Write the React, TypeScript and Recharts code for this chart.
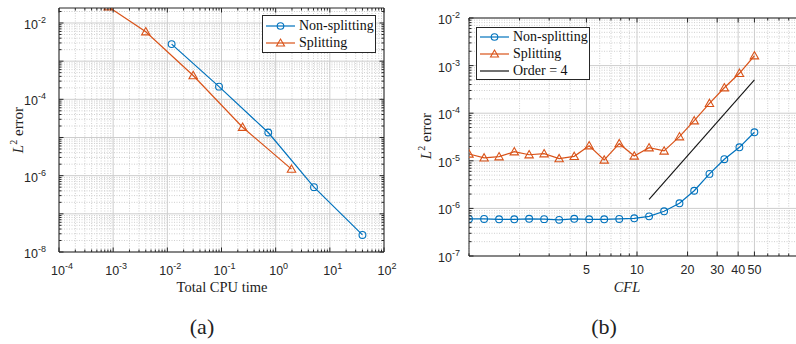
import React from 'react';
import { LineChart, Line, XAxis, YAxis, CartesianGrid } from 'recharts';

// (a) error against total CPU time
const cpuNonSplit = [0.012, 0.09, 0.73, 5.1, 40];
const errNonSplitA = [2.8e-3, 2.15e-4, 1.35e-5, 5.0e-7, 2.8e-8];
const cpuSplit = [8.1e-4, 4.0e-3, 0.03, 0.245, 1.96];
const errSplitA = [2.67e-2, 5.9e-3, 4.2e-4, 1.86e-5, 1.48e-6];

// (b) error against CFL
const cfl = [1, 1.23, 1.51, 1.86, 2.28, 2.8, 3.44, 4.23, 5.19, 6.38, 7.84, 9.63, 11.8, 14.5, 17.9, 21.9, 27, 33.1, 40.7, 50];
const errNonSplitB = [6.0e-7, 6.0e-7, 5.9e-7, 5.9e-7, 6.05e-7, 5.95e-7, 5.75e-7, 6.05e-7, 5.9e-7, 5.9e-7, 6.0e-7, 6.2e-7, 6.8e-7, 8.7e-7, 1.28e-6, 2.35e-6, 5.3e-6, 1.08e-5, 1.92e-5, 3.97e-5];
const errSplitB = [1.39e-5, 1.15e-5, 1.22e-5, 1.55e-5, 1.34e-5, 1.41e-5, 1.11e-5, 1.24e-5, 2.07e-5, 1.04e-5, 2.29e-5, 1.26e-5, 1.88e-5, 1.61e-5, 3.21e-5, 6.95e-5, 1.61e-4, 3.43e-4, 6.89e-4, 1.61e-3];
const cflOrder = [11.8, 50];
const errOrder = [1.55e-6, 5.0e-4];

// axis ticks
const xMajorA = [1e-4, 1e-3, 1e-2, 1e-1, 1, 10, 100];
const xLabelA = [1e-4, 1e-3, 1e-2, 1e-1, 1, 10, 100];
const yMajorA = [1e-8, 1e-7, 1e-6, 1e-5, 1e-4, 1e-3, 1e-2];
const yLabelA = [1e-8, 1e-6, 1e-4, 1e-2];
const xMajorB = [5, 10, 20, 30, 40, 50];
const xMinorB = [1, 2, 3, 4, 6, 7, 8, 9, 60, 70, 80, 90, 100];
const yMajorB = [1e-7, 1e-6, 1e-5, 1e-4, 1e-3, 1e-2];
const yLabelB = [1e-7, 1e-6, 1e-5, 1e-4, 1e-3, 1e-2];

const BLUE = '#0072BD';
const ORANGE = '#D95319';
const AXIS = '#262626';
const SANS = "'Liberation Sans', Arial, Helvetica, sans-serif";
const SERIF = "'Liberation Serif', 'Times New Roman', serif";

const X_DOMAIN_A: [number, number] = [1e-4, 100];
const Y_DOMAIN_A: [number, number] = [1e-8, 0.0247];
const X_DOMAIN_B: [number, number] = [1, 100];
const Y_DOMAIN_B: [number, number] = [1e-7, 1e-2];

function minors(lo: number, hi: number, max: number) {
  const out: number[] = [];
  for (let e = lo; e < hi; e++) {
    for (let m = 2; m <= 9; m++) {
      const v = m * Math.pow(10, e);
      if (v <= max) out.push(v);
    }
  }
  return out;
}

const xMinorA = minors(-4, 2, 100);
const yMinorA = minors(-8, -1, Y_DOMAIN_A[1]);
const yMinorB = minors(-7, -2, 1e-2);

const near = (list: number[], v: number) => list.some((m) => Math.abs(m - v) <= m * 1e-6);

const pts = (xs: number[], ys: number[]) => xs.map((x, i) => ({ x, y: ys[i] }));

const PowLabel = ({ x, y, anchor, v }: any) => (
  <text x={x} y={y} textAnchor={anchor} fontSize={12.5} fill={AXIS} fontFamily={SANS}>
    10
    <tspan dy={-6} fontSize={9}>
      {Math.round(Math.log10(v))}
    </tspan>
  </text>
);

function makeTick(side: string, majors: number[], labels: number[], pow: boolean, off: number) {
  return (props: any) => {
    const { x, y, payload, index } = props;
    const v = payload.value;
    const len = near(majors, v) ? 4.5 : 2.5;
    let line = null;
    let label = null;
    if (side === 'bottom') line = <line x1={x} x2={x} y1={y} y2={y - len} stroke={AXIS} />;
    if (side === 'top') line = <line x1={x} x2={x} y1={y} y2={y + len} stroke={AXIS} />;
    if (side === 'left') line = <line x1={x} x2={x + len} y1={y} y2={y} stroke={AXIS} />;
    if (side === 'right') line = <line x1={x} x2={x - len} y1={y} y2={y} stroke={AXIS} />;
    if (near(labels, v)) {
      if (side === 'bottom') {
        label = pow ? (
          <PowLabel x={x + 3} y={y + off} anchor="middle" v={v} />
        ) : (
          <text x={x} y={y + off} textAnchor="middle" fontSize={12.5} fill={AXIS} fontFamily={SANS}>
            {v}
          </text>
        );
      }
      if (side === 'left') label = <PowLabel x={x - off} y={y + 6} anchor="end" v={v} />;
    }
    return (
      <g key={`${side}-${index}`}>
        {line}
        {label}
      </g>
    );
  };
}

const triDot = (props: any) => {
  const { cx, cy, index } = props;
  if (cx == null || cy == null) return <g key={`t${index}`} />;
  const s = 4.2;
  return (
    <path
      key={`t${index}`}
      d={`M${cx},${cy - s} L${cx + s},${cy + s * 0.75} L${cx - s},${cy + s * 0.75} Z`}
      fill="none"
      stroke={ORANGE}
      strokeWidth={1.1}
    />
  );
};

const circleDot = { r: 3.4, fill: 'none', stroke: BLUE, strokeWidth: 1.1 };

const LegendRow = ({ color, marker, text }: any) => (
  <div style={{ display: 'flex', alignItems: 'center', height: 17 }}>
    <svg width={31} height={12} style={{ marginLeft: 2, marginRight: 3 }}>
      <line x1={1} x2={30} y1={6} y2={6} stroke={color} strokeWidth={1.2} />
      {marker === 'circle' && <circle cx={15.5} cy={6} r={3.3} fill="none" stroke={color} strokeWidth={1.1} />}
      {marker === 'tri' && <path d="M15.5,2 L19.5,9 L11.5,9 Z" fill="none" stroke={color} strokeWidth={1.1} />}
    </svg>
    <span style={{ fontFamily: SERIF, fontSize: 14, color: '#111', whiteSpace: 'nowrap' }}>{text}</span>
  </div>
);

const YTitle = ({ cx, cy }: any) => (
  <div
    style={{
      position: 'absolute',
      left: cx,
      top: cy,
      transform: 'translate(-50%, -50%) rotate(-90deg)',
      fontFamily: SERIF,
      fontSize: 15,
      color: '#222',
      whiteSpace: 'nowrap',
    }}
  >
    <i>L</i>
    <sup style={{ fontSize: 10 }}>2</sup> error
  </div>
);

const Caption = ({ cx, cy, size, italic, children }: any) => (
  <div
    style={{
      position: 'absolute',
      left: cx,
      top: cy,
      transform: 'translate(-50%, -50%)',
      fontFamily: SERIF,
      fontSize: size,
      fontStyle: italic ? 'italic' : 'normal',
      color: '#222',
      whiteSpace: 'nowrap',
    }}
  >
    {children}
  </div>
);

const axisCommon = {
  type: 'number' as const,
  scale: 'log' as const,
  allowDataOverflow: true,
  interval: 0 as const,
  tickSize: 0,
  tickMargin: 0,
  tickLine: false,
  stroke: AXIS,
};

export default function App() {
  const ticksXA = [...xMajorA, ...xMinorA];
  const ticksYA = [...yMajorA, ...yMinorA];
  const ticksXB = [...xMajorB, ...xMinorB];
  const ticksYB = [...yMajorB, ...yMinorB];

  return (
    <div style={{ position: 'absolute', left: 0, top: 0, width: 796, height: 344, overflow: 'hidden', background: '#fff' }}>
      <div style={{ position: 'absolute', left: 0, top: 0 }}>
        <LineChart width={400} height={344} margin={{ top: 7, right: 15, bottom: 62, left: 9 }}>
          <CartesianGrid horizontalValues={yMinorA} verticalValues={xMinorA} stroke="#cfcfcf" strokeDasharray="1 1.5" />
          <CartesianGrid horizontalValues={yMajorA} verticalValues={xMajorA} stroke="#cdcdcd" />
          <XAxis {...axisCommon} dataKey="x" domain={X_DOMAIN_A} ticks={ticksXA} height={30}
            tick={makeTick('bottom', xMajorA, xLabelA, true, 23)} />
          <XAxis {...axisCommon} xAxisId="top" orientation="top" dataKey="x" domain={X_DOMAIN_A} ticks={ticksXA} height={1}
            tick={makeTick('top', xMajorA, [], true, 0)} />
          <YAxis {...axisCommon} dataKey="y" domain={Y_DOMAIN_A} ticks={ticksYA} width={50}
            tick={makeTick('left', yMajorA, yLabelA, true, 13)} />
          <YAxis {...axisCommon} yAxisId="right" orientation="right" dataKey="y" domain={Y_DOMAIN_A} ticks={ticksYA} width={1}
            tick={makeTick('right', yMajorA, [], true, 0)} />
          <Line data={pts(cpuNonSplit, errNonSplitA)} dataKey="y" stroke={BLUE} strokeWidth={1.2} dot={circleDot} activeDot={false} isAnimationActive={false} />
          <Line data={pts(cpuSplit, errSplitA)} dataKey="y" stroke={ORANGE} strokeWidth={1.2} dot={triDot} activeDot={false} isAnimationActive={false} />
        </LineChart>
      </div>

      <div style={{ position: 'absolute', left: 400, top: 0 }}>
        <LineChart width={420} height={344} margin={{ top: 17, right: 14, bottom: 58, left: 19 }}>
          <CartesianGrid horizontalValues={yMinorB} verticalValues={xMinorB} stroke="#cfcfcf" strokeDasharray="1 1.5" />
          <CartesianGrid horizontalValues={yMajorB} verticalValues={xMajorB} stroke="#cdcdcd" />
          <XAxis {...axisCommon} dataKey="x" domain={X_DOMAIN_B} ticks={ticksXB} height={30}
            tick={makeTick('bottom', xMajorB, xMajorB, false, 18)} />
          <XAxis {...axisCommon} xAxisId="top" orientation="top" dataKey="x" domain={X_DOMAIN_B} ticks={ticksXB} height={1}
            tick={makeTick('top', xMajorB, [], false, 0)} />
          <YAxis {...axisCommon} dataKey="y" domain={Y_DOMAIN_B} ticks={ticksYB} width={50}
            tick={makeTick('left', yMajorB, yLabelB, true, 9)} />
          <YAxis {...axisCommon} yAxisId="right" orientation="right" dataKey="y" domain={Y_DOMAIN_B} ticks={ticksYB} width={1}
            tick={makeTick('right', yMajorB, [], true, 0)} />
          <Line data={pts(cfl, errNonSplitB)} dataKey="y" stroke={BLUE} strokeWidth={1.2} dot={circleDot} activeDot={false} isAnimationActive={false} />
          <Line data={pts(cfl, errSplitB)} dataKey="y" stroke={ORANGE} strokeWidth={1.2} dot={triDot} activeDot={false} isAnimationActive={false} />
          <Line data={pts(cflOrder, errOrder)} dataKey="y" stroke="#111" strokeWidth={1.1} dot={false} activeDot={false} isAnimationActive={false} />
        </LineChart>
      </div>

      <div style={{ position: 'absolute', left: 262, top: 15, width: 112, height: 35, border: `1px solid ${AXIS}`, background: '#fff', paddingTop: 1 }}>
        <LegendRow color={BLUE} marker="circle" text="Non-splitting" />
        <LegendRow color={ORANGE} marker="tri" text="Splitting" />
      </div>
      <div style={{ position: 'absolute', left: 476, top: 27, width: 112, height: 51, border: `1px solid ${AXIS}`, background: '#fff', paddingTop: 0 }}>
        <LegendRow color={BLUE} marker="circle" text="Non-splitting" />
        <LegendRow color={ORANGE} marker="tri" text="Splitting" />
        <LegendRow color="#111" marker="none" text="Order = 4" />
      </div>

      <YTitle cx={17} cy={130} />
      <YTitle cx={425} cy={136} />
      <Caption cx={222} cy={287} size={14.5}>Total CPU time</Caption>
      <Caption cx={627} cy={287} size={14.5} italic>CFL</Caption>
      <Caption cx={202} cy={327} size={22}>(a)</Caption>
      <Caption cx={604} cy={327} size={22}>(b)</Caption>
    </div>
  );
}
